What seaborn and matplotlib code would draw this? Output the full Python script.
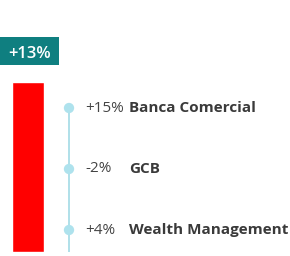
import matplotlib
matplotlib.use("Agg")
import matplotlib.pyplot as plt
import seaborn as sns
import pandas as pd

total_label = "+13%"
total_value = [13]
segments = ["Banca Comercial", "GCB", "Wealth Management"]
changes = ["+15%", "-2%", "+4%"]

sns.set_theme(style="white")
plt.rcParams['font.family'] = ['Open Sans', 'DejaVu Sans']

W, H = 290, 256
fig = plt.figure(figsize=(W / 100, H / 100), dpi=100)
fig.patch.set_facecolor("white")

# Red bar
axb = fig.add_axes([12 / W, 4 / H, 32 / W, 170 / H])
dfb = pd.DataFrame({"k": ["total"], "v": total_value})
sns.barplot(data=dfb, x="k", y="v", color="#ff0000", saturation=1, width=1.0, ax=axb)
axb.set_xlim(-0.5, 0.5)
axb.set_ylim(0, total_value[0])
axb.axis("off")

# Teal label box
box_ax = fig.add_axes([0, 1 - 65 / H, 59 / W, 28 / H])
box_ax.set_facecolor("#0f7f80")
box_ax.set_xticks([]); box_ax.set_yticks([])
for s in box_ax.spines.values():
    s.set_visible(False)
box_ax.text(0.5, 0.47, total_label, color="white", fontsize=12, fontweight="semibold",
            ha="center", va="center_baseline", transform=box_ax.transAxes)

# Timeline with dots
axd = fig.add_axes([0, 4 / H, 1, (252 - 80) / H])
n = len(segments)
dfd = pd.DataFrame({"x": [0] * n, "y": list(range(n))})
axd.set_xlim(-69, W - 69)
step = (230 - 108) / 2
ybot = (n - 1) + (252 - 230) / step
axd.set_ylim(ybot, -(108 - 80) / step)
axd.plot([0, 0], [0, ybot], color="#a9dde7", lw=1.3, zorder=1)
sns.scatterplot(data=dfd, x="x", y="y", s=55, color="#aee2ed", edgecolor="none", ax=axd, zorder=2, clip_on=False)
for i, (seg, ch) in enumerate(zip(segments, changes)):
    axd.text(16, i, ch, fontsize=11, color="#444444", ha="left", va="center")
    axd.text(60, i, seg, fontsize=11, color="#3a3a3a", fontweight="bold", ha="left", va="center")
axd.axis("off")

fig.savefig("out.png", dpi=100, facecolor="white")
